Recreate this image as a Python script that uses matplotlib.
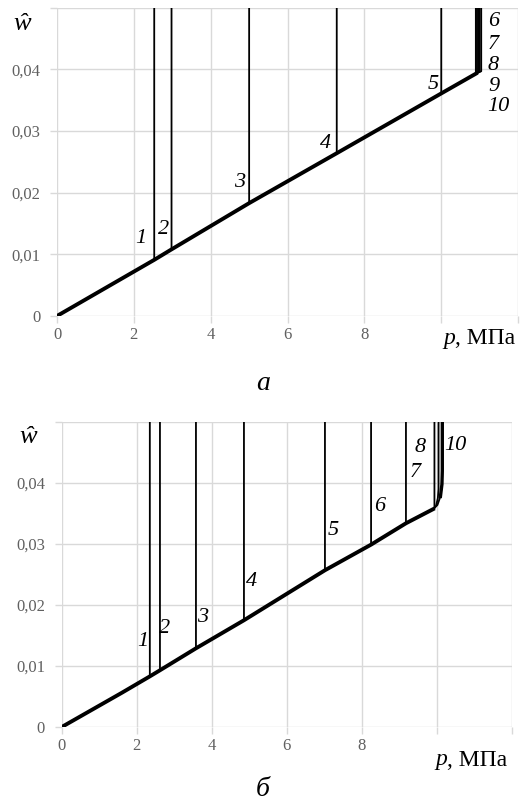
import matplotlib
matplotlib.use("Agg")
import matplotlib.pyplot as plt
from matplotlib.patches import Rectangle

# --- panel a: common loading path and critical pressures of curves 1..10
base_p_a = [0, 2.53, 2.98, 5.0, 7.28, 10.0, 10.9]
base_w_a = [0, 0.0091, 0.0108, 0.0183, 0.0264, 0.0361, 0.0393]
crit_p_a = [2.53, 2.98, 5.0, 7.28, 10.0, 10.9, 10.93, 10.96, 11.0, 11.04]
crit_w_a = [0.0091, 0.0108, 0.0183, 0.0264, 0.0361, 0.0393, 0.0394, 0.0395, 0.0396, 0.0397]
labels_a = ["1", "2", "3", "4", "5", "6", "7", "8", "9", "10"]
label_xy_a = [(2.18, 0.0125), (2.77, 0.0140), (4.74, 0.0216), (6.98, 0.0280),
              (9.8, 0.0375), (11.36, 0.0478), (11.36, 0.0440), (11.36, 0.0407),
              (11.36, 0.0373), (11.49, 0.0340)]

# --- panel b
base_p_b = [0, 1.6, 2.35, 2.62, 3.58, 4.86, 7.02, 8.25, 9.18, 9.9]
base_w_b = [0, 0.0056, 0.0083, 0.0093, 0.0129, 0.0175, 0.0257, 0.0299, 0.0334, 0.0357]
crit_p_b = [2.35, 2.62, 3.58, 4.86, 7.02, 8.25, 9.18, 9.94]
crit_w_b = [0.0083, 0.0093, 0.0129, 0.0175, 0.0257, 0.0299, 0.0334, 0.0358]
knee9_p = [9.9, 9.98, 10.03, 10.05, 10.05]
knee9_w = [0.0357, 0.0362, 0.0375, 0.039, 0.06]
knee10_p = [9.9, 10.02, 10.1, 10.14, 10.15, 10.15]
knee10_w = [0.0357, 0.0364, 0.0378, 0.0398, 0.042, 0.06]
labels_b = ["1", "2", "3", "4", "5", "6", "7", "8", "10"]
label_xy_b = [(2.16, 0.0140), (2.75, 0.0161), (3.76, 0.0180), (5.07, 0.0239),
              (7.24, 0.0322), (8.49, 0.0361), (9.42, 0.0417), (9.57, 0.0459),
              (10.49, 0.0462)]

TOP = 0.06
grid_c = "#d9d9d9"
tick_c = "#606060"
serif = ["Liberation Serif", "DejaVu Serif"]

fig = plt.figure(figsize=(5.26, 8.06), dpi=100)
ax_a = fig.add_axes([0.1084, 0.608, 0.8766, 0.3824])
ax_b = fig.add_axes([0.1173, 0.098, 0.8555, 0.3784])


def style(ax, gap):
    ax.set_xlim(0, 12)
    ax.set_ylim(0, 0.05)
    ax.set_xticks([0, 2, 4, 6, 8, 10, 12])
    ax.set_xticklabels(["0", "2", "4", "6", "8", "", ""])
    ax.set_yticks([0, 0.01, 0.02, 0.03, 0.04, 0.05])
    ax.set_yticklabels(["0", "0,01", "0,02", "0,03", "0,04", ""])
    for s in ax.spines.values():
        s.set_visible(False)
    ax.grid(True, color=grid_c, lw=1.0)
    ax.set_axisbelow(True)
    ax.tick_params(length=5, width=1.0, color=grid_c, labelsize=12, labelcolor=tick_c)
    ax.tick_params(axis="x", pad=3)
    ax.tick_params(axis="y", pad=7)
    for t in ax.get_xticklabels() + ax.get_yticklabels():
        t.set_family(serif)
    # small white gap in the 0,01 gridline
    ax.add_patch(Rectangle((gap[0], 0.0097), gap[1] - gap[0], 0.0006,
                           facecolor="white", edgecolor="none", zorder=0.5))


style(ax_a, (10.0, 11.5))
style(ax_b, (10.2, 11.75))

# panel a curves
for p, w in zip(crit_p_a, crit_w_a):
    pp = [x for x in base_p_a if x < p] + [p, p]
    ww = [y for x, y in zip(base_p_a, base_w_a) if x < p] + [w, TOP]
    ax_a.plot(pp, ww, color="black", lw=1.3)
ax_a.plot(base_p_a, base_w_a, color="black", lw=2.8)
for s, (x, y) in zip(labels_a, label_xy_a):
    ax_a.text(x, y, s, family=serif, style="italic", fontsize=16,
              ha="center", va="center", clip_on=False)

# panel b curves
for p, w in zip(crit_p_b, crit_w_b):
    pp = [x for x in base_p_b if x < p] + [p, p]
    ww = [y for x, y in zip(base_p_b, base_w_b) if x < p] + [w, TOP]
    ax_b.plot(pp, ww, color="black", lw=1.3)
ax_b.plot(base_p_b + knee9_p, base_w_b + knee9_w, color="black", lw=1.3)
ax_b.plot(base_p_b + knee10_p, base_w_b + knee10_w, color="black", lw=1.3)
ax_b.plot(knee10_p[2:], knee10_w[2:], color="black", lw=2.4)
ax_b.plot(base_p_b, base_w_b, color="black", lw=2.8)
for s, (x, y) in zip(labels_b, label_xy_b):
    ax_b.text(x, y, s, family=serif, style="italic", fontsize=16,
              ha="center", va="center", clip_on=False)

# axis names and panel letters (pixel positions / figure size)
W, H = 526.0, 806.0
for (xw, yw), (xp, yp) in [((22, 24), (443, 338)), ((28, 437), (435, 760))]:
    fig.text(xw / W, 1 - yw / H, "ŵ", family=serif, style="italic",
             fontsize=19, ha="center", va="center")
    fig.text(xp / W, 1 - yp / H, "p", family=serif, style="italic",
             fontsize=17, ha="left", va="center")
    fig.text((xp + 12) / W, 1 - yp / H, ", МПа", family=serif,
             fontsize=17, ha="left", va="center")
fig.text(263 / W, 1 - 383 / H, "а", family=serif, style="italic", fontsize=20,
         ha="center", va="center")
fig.text(263 / W, 1 - 790 / H, "б", family=serif, style="italic", fontsize=20,
         ha="center", va="center")

fig.savefig("out.png", dpi=100)
